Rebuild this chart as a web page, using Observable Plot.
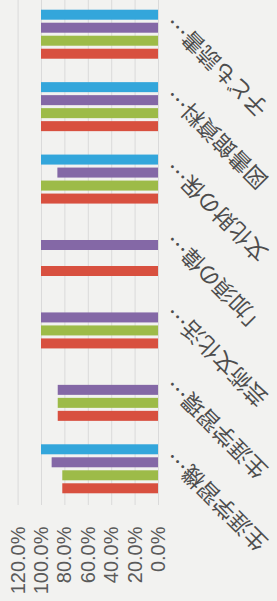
<!DOCTYPE html>
<html><head><meta charset="utf-8">
<script src="https://cdn.jsdelivr.net/npm/d3@7"></script>
<script src="https://cdn.jsdelivr.net/npm/@observablehq/plot@0.6"></script>
<style>
html,body{margin:0;padding:0;width:277px;height:601px;overflow:hidden;background:#f2f2f0;}
#chart{position:absolute;left:0;top:0;width:603px;height:277px;transform-origin:0 0;transform:translate(0,601px) rotate(-90deg);}
</style></head><body><div id="chart"></div>
<script>
const categories = ["生涯学習機…","生涯学習環…","芸術文化活…","「加須の偉…","文化財の保…","図書館資料…","子ども読書…"];
const series = ["系列1","系列2","系列3","系列4"];
const series1 = [0.818, 0.857, 1.0, 1.0, 1.0, 1.0, 1.0];
const series2 = [0.818, 0.857, 1.0, null, 1.0, 1.0, 1.0];
const series3 = [0.909, 0.857, 1.0, 1.0, 0.86, 1.0, 1.0];
const series4 = [1.0, null, null, null, 1.0, 1.0, 1.0];
const yTicks = [0, 0.2, 0.4, 0.6, 0.8, 1.0, 1.2];
const colors = ["#d8503f", "#9dbb48", "#8468a6", "#33a6db"];

const seriesValues = [series1, series2, series3, series4];
const rows = [];
series.forEach((s, j) => categories.forEach((c, i) => {
  if (seriesValues[j][i] != null) rows.push({category: c, series: s, value: seriesValues[j][i]});
}));

const fs = 22;
const plot = Plot.plot({
  width: 603, height: 277,
  marginLeft: 96, marginRight: 0, marginTop: 17.6, marginBottom: 119,
  x: {type: "band", domain: categories, paddingInner: 0.862, paddingOuter: 0.431, round: false, axis: null},
  y: {domain: [0, 1.2], ticks: yTicks, tickFormat: d3.format(".1%"), tickSize: 0, tickPadding: 22, label: null},
  style: {background: "transparent", color: "#5a5a5a", fontSize: "20px", fontFamily: "Liberation Sans, Arial, sans-serif", overflow: "visible"},
  marks: [
    Plot.ruleY(yTicks, {stroke: "#dadada"}),
    ...series.map((s, j) => Plot.barY(rows.filter(r => r.series === s), {
      x: "category", y: "value", fill: colors[j], dx: (j - 1.5) * 13
    })),
    Plot.text(categories, {
      x: d => d, text: d => d, frameAnchor: "bottom", rotate: -45,
      textAnchor: "end", lineAnchor: "middle",
      dx: 7.5 + 0.354 * fs, dy: 20 - 0.354 * fs,
      fontSize: fs, fontFamily: "Noto Sans CJK JP", fill: "#4d4d4d"
    })
  ]
});
document.getElementById("chart").appendChild(plot);
</script>
</body></html>
